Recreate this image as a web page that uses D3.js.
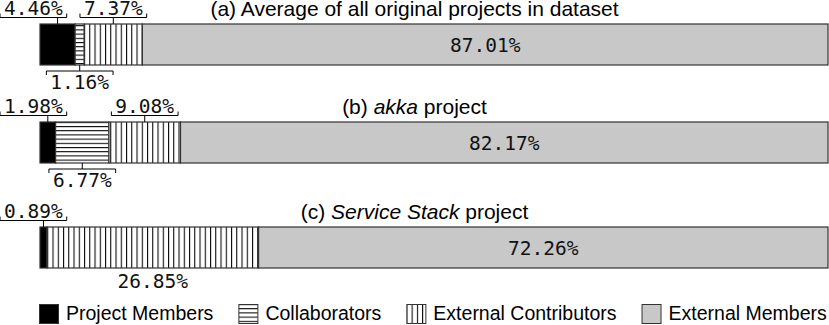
<!DOCTYPE html>
<html>
<head>
<meta charset="utf-8">
<script src="https://cdn.jsdelivr.net/npm/d3@7/dist/d3.min.js"></script>
<style>
body { margin: 0; background: #fff; }
svg { display: block; }
</style>
</head>
<body>
<svg id="chart" width="829" height="325"></svg>
<script>
"use strict";

// data (percent of each project's people)
var categories = ["Project Members", "Collaborators", "External Contributors", "External Members"];
var projects = ["a", "b", "c"];
var titlePrefix = ["(a) ", "(b) ", "(c) "];
var titleName = ["Average of all original projects in dataset", "akka", "Service Stack"];
var titleSuffix = ["", " project", " project"];
var memberShare = [4.46, 1.98, 0.89];
var collabShare = [1.16, 6.77, 0];
var contribShare = [7.37, 9.08, 26.85];
var externalShare = [87.01, 82.17, 72.26];

var MONO = "'DejaVu Sans Mono', monospace";
var SANS = "'Liberation Sans', Arial, sans-serif";

var svg = d3.select("#chart");
var W = +svg.attr("width");
var barH = 41;

var x = d3.scaleLinear().domain([0, 100]).range([40, 828]);
// bar tops (the three panels are not evenly spaced in the original)
var y = d3.scaleOrdinal().domain(projects).range([24, 122, 227]);

// fill patterns
var defs = svg.append("defs");
var hp = defs.append("pattern").attr("id", "hlines")
	.attr("patternUnits", "userSpaceOnUse").attr("width", 8).attr("height", 4.2);
hp.append("rect").attr("width", 8).attr("height", 4.2).attr("fill", "#fff");
hp.append("line").attr("x1", 0).attr("x2", 8).attr("y1", 0.5).attr("y2", 0.5)
	.attr("stroke", "#000").attr("stroke-width", 1.1);
var vp = defs.append("pattern").attr("id", "vlines")
	.attr("patternUnits", "userSpaceOnUse").attr("width", 5.25).attr("height", 8);
vp.append("rect").attr("width", 5.25).attr("height", 8).attr("fill", "#fff");
vp.append("line").attr("x1", 0.5).attr("x2", 0.5).attr("y1", 0).attr("y2", 8)
	.attr("stroke", "#000").attr("stroke-width", 1.1);

var fills = ["#000", "url(#hlines)", "url(#vlines)", "#c8c8c8"];

function textWidth(str, font) {
	var c = textWidth.canvas || (textWidth.canvas = document.createElement("canvas"));
	var ctx = c.getContext("2d");
	ctx.font = font;
	return ctx.measureText(str).width;
}

var monoSize = 19.5;
var monoFont = monoSize + "px " + MONO;

projects.forEach(function(p, i) {
	var vals = [memberShare[i], collabShare[i], contribShare[i], externalShare[i]];
	var top = y(p), bottom = top + barH;
	var g = svg.append("g");

	// title, centred on the whole picture
	var t = g.append("text")
		.attr("x", W / 2).attr("y", top - 8)
		.attr("text-anchor", "middle")
		.style("font-family", SANS).style("font-size", "21px").attr("fill", "#000");
	t.append("tspan").text(titlePrefix[i]);
	t.append("tspan").text(titleName[i]).style("font-style", i > 0 ? "italic" : "normal");
	t.append("tspan").text(titleSuffix[i]);

	// stacked segments
	var segs = [];
	var acc = 0;
	vals.forEach(function(v, k) {
		segs.push({ k: k, v: v, x0: acc, x1: acc + v });
		acc += v;
	});
	g.selectAll("rect.seg").data(segs.filter(d => d.v > 0)).enter()
		.append("rect").attr("class", "seg")
		.attr("x", d => x(d.x0)).attr("y", top)
		.attr("width", d => x(d.x1) - x(d.x0)).attr("height", barH)
		.attr("fill", d => fills[d.k])
		.attr("stroke", "#333").attr("stroke-width", 1.2);

	// labels
	segs.forEach(function(d) {
		if (d.v <= 0) return;
		var label = d.v.toFixed(2) + "%";
		var cx = (x(d.x0) + x(d.x1)) / 2;
		var tw = textWidth(label, monoFont);
		var bw = tw + 8;
		var side, plain = false;
		if (d.k === 3) side = "inside";
		else if (d.k === 1) side = "below";
		else if (d.k === 2 && collabShare[i] === 0) { side = "below"; plain = true; }
		else side = "above";

		if (side === "inside") {
			g.append("text").attr("x", cx).attr("y", top + barH / 2 + 7)
				.attr("text-anchor", "middle").style("font-family", MONO)
				.style("font-size", monoSize + "px").attr("fill", "#111").text(label);
			return;
		}
		// the members label sits flush with the left edge
		var lx = d.k === 0 ? bw / 2 : cx;
		var bl = lx - bw / 2, br = lx + bw / 2;
		var path;
		var ty;
		if (side === "above") {
			var by = top - 6.5;
			path = `M${bl},${by - 4}L${bl},${by}L${br},${by}L${br},${by - 4}M${cx},${by}L${cx},${top}`;
			ty = top - 9;
		} else {
			var by2 = bottom + 6;
			path = `M${bl},${by2 + 4}L${bl},${by2}L${br},${by2}L${br},${by2 + 4}M${cx},${by2}L${cx},${bottom}`;
			ty = plain ? bottom + 20 : bottom + 24;
		}
		if (!plain) {
			g.append("path").attr("d", path).attr("fill", "none")
				.attr("stroke", "#000").attr("stroke-width", 1);
		}
		g.append("text").attr("x", lx).attr("y", ty)
			.attr("text-anchor", "middle").style("font-family", MONO)
			.style("font-size", monoSize + "px").attr("fill", "#111").text(label);
	});
});

// legend
var lg = svg.append("g").attr("transform", "translate(39,304)");
var lx = 0;
categories.forEach(function(c, k) {
	var it = lg.append("g").attr("transform", `translate(${lx},0)`);
	it.append("rect").attr("x", 0.5).attr("y", 0.5).attr("width", 19).attr("height", 19)
		.attr("fill", fills[k]).attr("stroke", "#333").attr("stroke-width", 1);
	var tx = it.append("text").attr("x", 27).attr("y", 16)
		.style("font-family", SANS).style("font-size", "19.5px").attr("fill", "#000").text(c);
	lx += 27 + tx.node().getComputedTextLength() + 25;
});
</script>
</body>
</html>
